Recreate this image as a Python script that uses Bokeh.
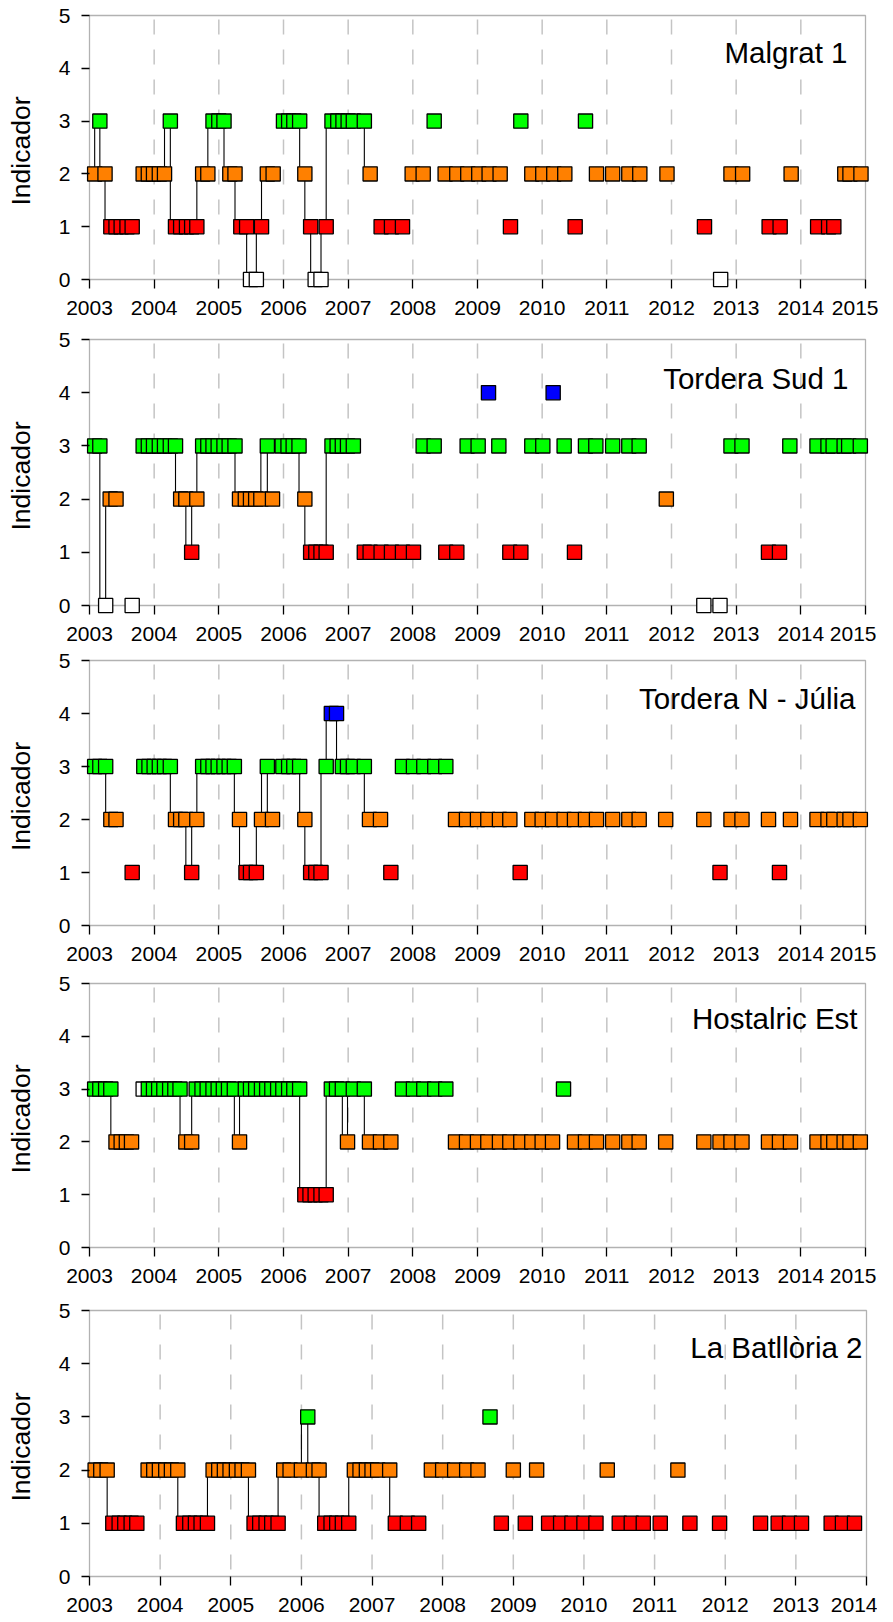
from bokeh.plotting import figure
from bokeh.models import Range1d, FixedTicker, BoxAnnotation, Label
from bokeh.layouts import column
from bokeh.embed import file_html
from bokeh.resources import INLINE

# ---------------- data (decimal year, indicator value) ----------------
malgrat_dates = [2003.08, 2003.16, 2003.24, 2003.33, 2003.41, 2003.49, 2003.58, 2003.66,
                 2003.83, 2003.91, 2003.99, 2004.08, 2004.16, 2004.25, 2004.33, 2004.41,
                 2004.50, 2004.58, 2004.66, 2004.75, 2004.83, 2004.91, 2005.00, 2005.08,
                 2005.17, 2005.25, 2005.34, 2005.43, 2005.49, 2005.58, 2005.66, 2005.75,
                 2005.84, 2006.00, 2006.08, 2006.16, 2006.25, 2006.33, 2006.42, 2006.49,
                 2006.58, 2006.66, 2006.75, 2006.84, 2006.92, 2007.00, 2007.08, 2007.25,
                 2007.34, 2007.51, 2007.67, 2007.84, 2007.99, 2008.16, 2008.33, 2008.50,
                 2008.68, 2008.85, 2009.02, 2009.18, 2009.35, 2009.51, 2009.67, 2009.84,
                 2010.01, 2010.18, 2010.35, 2010.51, 2010.67, 2010.84, 2011.09, 2011.34,
                 2011.51, 2011.93, 2012.51, 2012.76, 2012.92, 2013.10, 2013.51, 2013.68,
                 2013.85, 2014.26, 2014.43, 2014.51, 2014.68, 2014.76, 2014.93]
malgrat_values = [2, 3, 2, 1, 1, 1, 1, 1,
                  2, 2, 2, 2, 2, 3, 1, 1,
                  1, 1, 1, 2, 2, 3, 3, 3,
                  2, 2, 1, 1, 0, 0, 1, 2,
                  2, 3, 3, 3, 3, 2, 1, 0,
                  0, 1, 3, 3, 3, 3, 3, 3,
                  2, 1, 1, 1, 2, 2, 3, 2,
                  2, 2, 2, 2, 2, 1, 3, 2,
                  2, 2, 2, 1, 3, 2, 2, 2,
                  2, 2, 1, 0, 2, 2, 1, 1,
                  2, 1, 1, 1, 2, 2, 2]

tsud_dates = [2003.08, 2003.16, 2003.25, 2003.32, 2003.41, 2003.66, 2003.83, 2003.91,
              2003.99, 2004.08, 2004.16, 2004.25, 2004.33, 2004.41, 2004.49, 2004.58,
              2004.66, 2004.75, 2004.83, 2004.91, 2004.99, 2005.08, 2005.16, 2005.25,
              2005.32, 2005.41, 2005.49, 2005.57, 2005.65, 2005.75, 2005.83, 2005.98,
              2006.07, 2006.15, 2006.24, 2006.33, 2006.42, 2006.50, 2006.58, 2006.66,
              2006.75, 2006.83, 2006.91, 2006.99, 2007.08, 2007.25, 2007.34, 2007.51,
              2007.67, 2007.84, 2008.01, 2008.16, 2008.33, 2008.51, 2008.68, 2008.84,
              2009.01, 2009.17, 2009.33, 2009.50, 2009.67, 2009.84, 2010.01, 2010.17,
              2010.34, 2010.50, 2010.67, 2010.83, 2011.09, 2011.34, 2011.50, 2011.92,
              2012.50, 2012.75, 2012.92, 2013.09, 2013.50, 2013.67, 2013.83, 2014.25,
              2014.42, 2014.50, 2014.67, 2014.74, 2014.92]
tsud_values = [3, 3, 0, 2, 2, 0, 3, 3,
               3, 3, 3, 3, 3, 2, 2, 1,
               2, 3, 3, 3, 3, 3, 3, 3,
               2, 2, 2, 2, 2, 3, 2, 3,
               3, 3, 3, 2, 1, 1, 1, 1,
               3, 3, 3, 3, 3, 1, 1, 1,
               1, 1, 1, 3, 3, 1, 1, 3,
               3, 4, 3, 1, 1, 3, 3, 4,
               3, 1, 3, 3, 3, 3, 3, 2,
               0, 0, 3, 3, 1, 1, 3, 3,
               3, 3, 3, 3, 3]

tnord_dates = [2003.08, 2003.16, 2003.25, 2003.33, 2003.41, 2003.66, 2003.84, 2003.92,
               2004.00, 2004.08, 2004.16, 2004.25, 2004.33, 2004.41, 2004.49, 2004.58,
               2004.66, 2004.75, 2004.83, 2004.91, 2004.99, 2005.08, 2005.16, 2005.24,
               2005.32, 2005.42, 2005.49, 2005.58, 2005.66, 2005.75, 2005.83, 2005.99,
               2006.08, 2006.16, 2006.25, 2006.33, 2006.42, 2006.50, 2006.58, 2006.66,
               2006.74, 2006.82, 2006.91, 2006.99, 2007.08, 2007.25, 2007.33, 2007.50,
               2007.66, 2007.84, 2008.01, 2008.17, 2008.34, 2008.51, 2008.66, 2008.83,
               2009.00, 2009.16, 2009.34, 2009.50, 2009.66, 2009.84, 2010.00, 2010.16,
               2010.34, 2010.50, 2010.67, 2010.84, 2011.09, 2011.34, 2011.50, 2011.91,
               2012.50, 2012.75, 2012.92, 2013.09, 2013.50, 2013.67, 2013.84, 2014.25,
               2014.42, 2014.51, 2014.67, 2014.76, 2014.92]
tnord_values = [3, 3, 3, 2, 2, 1, 3, 3,
                3, 3, 3, 3, 2, 2, 2, 1,
                2, 3, 3, 3, 3, 3, 3, 3,
                2, 1, 1, 1, 2, 3, 2, 3,
                3, 3, 3, 2, 1, 1, 1, 3,
                4, 4, 3, 3, 3, 3, 2, 2,
                1, 3, 3, 3, 3, 3, 2, 2,
                2, 2, 2, 2, 1, 2, 2, 2,
                2, 2, 2, 2, 2, 2, 2, 2,
                2, 1, 2, 2, 2, 1, 2, 2,
                2, 2, 2, 2, 2]

host_dates = [2003.08, 2003.16, 2003.25, 2003.33, 2003.41, 2003.49, 2003.57, 2003.65,
              2003.83, 2003.91, 2003.99, 2004.07, 2004.15, 2004.24, 2004.32, 2004.40,
              2004.49, 2004.58, 2004.65, 2004.74, 2004.82, 2004.91, 2004.99, 2005.07,
              2005.15, 2005.24, 2005.32, 2005.41, 2005.49, 2005.57, 2005.66, 2005.74,
              2005.82, 2005.91, 2005.99, 2006.08, 2006.16, 2006.25, 2006.33, 2006.41,
              2006.49, 2006.58, 2006.66, 2006.74, 2006.82, 2006.91, 2006.99, 2007.08,
              2007.25, 2007.33, 2007.50, 2007.66, 2007.84, 2008.01, 2008.17, 2008.34,
              2008.51, 2008.66, 2008.83, 2009.00, 2009.16, 2009.34, 2009.50, 2009.67,
              2009.84, 2010.00, 2010.16, 2010.33, 2010.50, 2010.67, 2010.84, 2011.09,
              2011.34, 2011.50, 2011.91, 2012.50, 2012.75, 2012.92, 2013.09, 2013.50,
              2013.67, 2013.84, 2014.25, 2014.42, 2014.51, 2014.67, 2014.76, 2014.92]
host_values = [3, 3, 3, 3, 2, 2, 2, 2,
               3, 3, 3, 3, 3, 3, 3, 3,
               2, 2, 3, 3, 3, 3, 3, 3,
               3, 3, 2, 3, 3, 3, 3, 3,
               3, 3, 3, 3, 3, 3, 1, 1,
               1, 1, 1, 3, 3, 3, 2, 3,
               3, 2, 2, 2, 3, 3, 3, 3,
               3, 2, 2, 2, 2, 2, 2, 2,
               2, 2, 2, 3, 2, 2, 2, 2,
               2, 2, 2, 2, 2, 2, 2, 2,
               2, 2, 2, 2, 2, 2, 2, 2]
host_unfilled = [2003.83]

batl_dates = [2003.08, 2003.16, 2003.25, 2003.33, 2003.42, 2003.50, 2003.59, 2003.67,
              2003.83, 2003.91, 2003.99, 2004.08, 2004.16, 2004.25, 2004.33, 2004.42,
              2004.50, 2004.58, 2004.67, 2004.75, 2004.83, 2004.91, 2004.99, 2005.08,
              2005.16, 2005.25, 2005.33, 2005.41, 2005.50, 2005.58, 2005.67, 2005.75,
              2005.84, 2006.00, 2006.09, 2006.17, 2006.25, 2006.33, 2006.42, 2006.50,
              2006.58, 2006.67, 2006.75, 2006.83, 2006.92, 2007.00, 2007.08, 2007.25,
              2007.33, 2007.50, 2007.66, 2007.84, 2008.00, 2008.17, 2008.34, 2008.50,
              2008.67, 2008.83, 2009.00, 2009.17, 2009.33, 2009.50, 2009.67, 2009.83,
              2010.00, 2010.17, 2010.33, 2010.50, 2010.67, 2010.84, 2011.08, 2011.33,
              2011.50, 2011.92, 2012.50, 2012.75, 2012.91, 2013.08, 2013.50, 2013.66,
              2013.83]
batl_values = [2, 2, 2, 1, 1, 1, 1, 1,
               2, 2, 2, 2, 2, 2, 1, 1,
               1, 1, 1, 2, 2, 2, 2, 2,
               2, 2, 1, 1, 1, 1, 1, 2,
               2, 2, 3, 2, 2, 1, 1, 1,
               1, 1, 2, 2, 2, 2, 2, 2,
               1, 1, 1, 2, 2, 2, 2, 2,
               3, 1, 2, 1, 2, 1, 1, 1,
               1, 1, 2, 1, 1, 1, 1, 2,
               1, 1, 1, 1, 1, 1, 1, 1,
               1]

station_names = ["Malgrat 1", "Tordera Sud 1", "Tordera N - Júlia", "Hostalric Est", "La Batllòria 2"]
station_dates = [malgrat_dates, tsud_dates, tnord_dates, host_dates, batl_dates]
station_values = [malgrat_values, tsud_values, tnord_values, host_values, batl_values]
station_unfilled = [[], [], [], host_unfilled, []]
year_start = 2003
year_ends = [2015, 2015, 2015, 2015, 2014]
y_ticks = [0, 1, 2, 3, 4, 5]

# ---------------- style ----------------
FONT = "Liberation Sans"
LEVEL_COLORS = {0: "#ffffff", 1: "#ff0000", 2: "#ff8000", 3: "#00ff00", 4: "#0000ff"}
MAX_LINK_GAP = 0.13   # consecutive monthly samples are joined by a line

PAD_B, PAD_T, PAD_L, PAD_R = 9, 2, 4, 9
data_heights = [264, 266, 265, 264, 266]
data_widths = [776, 776, 776, 776, 777]
border_left = [85, 83, 82, 82, 80]
border_top = [13, 13, 8, 11, 16]
border_bottom = [36, 36, 36, 36, 36]
title_inset = [18, 17, 10, 8, 4]
title_drop = [37, 39, 38, 35, 37]

figs = []
for k in range(5):
    dates = station_dates[k]
    vals = station_values[k]
    x_end = year_ends[k]
    ppx = data_widths[k] / (x_end - year_start)
    ppy = data_heights[k] / 5.0
    p = figure(frame_width=data_widths[k] + PAD_L + PAD_R,
               frame_height=data_heights[k] + PAD_B + PAD_T,
               min_border_left=border_left[k], min_border_right=4,
               min_border_top=border_top[k], min_border_bottom=border_bottom[k],
               x_range=Range1d(year_start - PAD_L / ppx, x_end + PAD_R / ppx),
               y_range=Range1d(-PAD_B / ppy, 5 + PAD_T / ppy),
               output_backend="svg", toolbar_location=None)
    p.outline_line_color = None
    p.xgrid.visible = False
    p.ygrid.visible = False

    years = list(range(year_start, x_end + 1))
    inner = years[1:-1]
    # dashed year grid
    p.segment(x0=inner, y0=5, x1=inner, y1=0, line_color="#c4c4c4",
              line_width=1.5, line_dash="15 15", line_dash_offset=26)

    # frame box
    p.add_layout(BoxAnnotation(left=year_start, right=x_end, bottom=0, top=5,
                               fill_alpha=0, fill_color=None, line_color="black",
                               line_width=1.3, level="underlay"))

    # connecting lines between consecutive samples
    cx, cy0, cy1 = [], [], []
    for i in range(1, len(dates)):
        if dates[i] - dates[i - 1] < MAX_LINK_GAP and vals[i] != vals[i - 1]:
            cx.append(dates[i - 1])
            cy0.append(vals[i - 1])
            cy1.append(vals[i])
    p.segment(x0=cx, y0=cy0, x1=cx, y1=cy1, line_color="black", line_width=1.1)

    colors = ["#ffffff" if d in station_unfilled[k] else LEVEL_COLORS[v]
              for d, v in zip(dates, vals)]
    p.scatter(x=dates, y=vals, marker="square", size=14.2, fill_color=colors,
              line_color="black", line_width=1.3)

    p.add_layout(Label(x=x_end, y=5, x_offset=-title_inset[k], y_offset=-title_drop[k],
                       text=station_names[k], text_align="right",
                       text_baseline="alphabetic", text_font=FONT,
                       text_font_size="29.5px", text_color="black"))

    ax = p.xaxis[0]
    ax.ticker = FixedTicker(ticks=years)
    ax.axis_line_color = None
    ax.major_tick_in = PAD_B
    ax.major_tick_out = 0
    ax.minor_tick_line_color = None
    ax.major_tick_line_color = "black"
    ax.major_tick_line_width = 1.3
    ax.major_label_standoff = 12
    ax.major_label_text_font = FONT
    ax.major_label_text_font_size = "21px"
    ax.major_label_text_color = "black"

    ay = p.yaxis[0]
    ay.ticker = FixedTicker(ticks=y_ticks)
    ay.axis_line_color = None
    ay.major_tick_in = PAD_L
    ay.major_tick_out = 8 - PAD_L
    ay.minor_tick_line_color = None
    ay.major_tick_line_color = "black"
    ay.major_tick_line_width = 1.3
    ay.major_label_standoff = 11
    ay.major_label_text_font = FONT
    ay.major_label_text_font_size = "21px"
    ay.major_label_text_color = "black"
    ay.axis_label = "Indicador"
    ay.axis_label_text_font = FONT
    ay.axis_label_text_font_size = "26.5px"
    ay.axis_label_text_font_style = "normal"
    ay.axis_label_text_color = "black"
    ay.axis_label_standoff = 20
    figs.append(p)

layout = column(*figs)
open("out.html", "w").write(file_html(layout, INLINE))
